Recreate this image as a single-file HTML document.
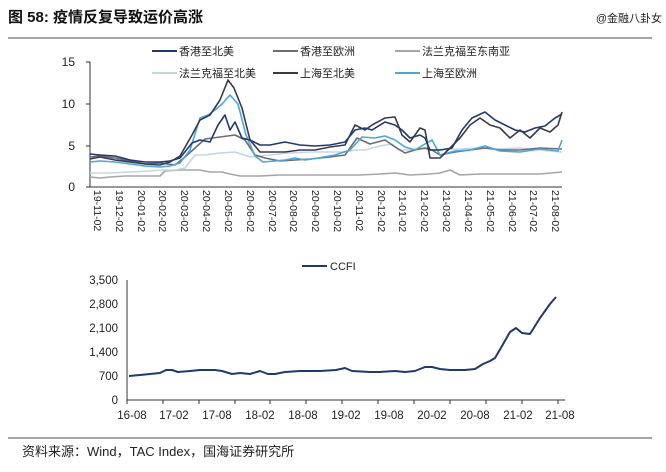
<!DOCTYPE html><html><head><meta charset="utf-8"><style>
body{margin:0;background:#fff;width:666px;height:467px;overflow:hidden;font-family:"Liberation Sans","Noto Sans CJK SC",sans-serif}
</style></head><body>
<svg width="666" height="467" viewBox="0 0 666 467" xmlns="http://www.w3.org/2000/svg" font-family="Liberation Sans, Noto Sans CJK SC, sans-serif">
<text x="8" y="22" font-size="15" font-weight="bold" fill="#111">图 58:  疫情反复导致运价高涨</text>
<text x="662" y="22" font-size="11" fill="#222" text-anchor="end">@金融八卦女</text>
<line x1="8" y1="38" x2="652" y2="38" stroke="#888" stroke-width="1.5"/>
<g font-size="11" fill="#222">
<line x1="152" y1="51" x2="177" y2="51" stroke="#1f3a6e" stroke-width="2"/><text x="179" y="55">香港至北美</text>
<line x1="273" y1="51" x2="298" y2="51" stroke="#6d6d6d" stroke-width="2"/><text x="300" y="55">香港至欧洲</text>
<line x1="395" y1="51" x2="420" y2="51" stroke="#a6a6a6" stroke-width="2"/><text x="422" y="55">法兰克福至东南亚</text>
<line x1="152" y1="73" x2="177" y2="73" stroke="#c5d5e8" stroke-width="2"/><text x="179" y="77">法兰克福至北美</text>
<line x1="273" y1="73" x2="298" y2="73" stroke="#3a3a4a" stroke-width="2"/><text x="300" y="77">上海至北美</text>
<line x1="395" y1="73" x2="420" y2="73" stroke="#4aa8dc" stroke-width="2"/><text x="422" y="77">上海至欧洲</text>
</g>
<g font-size="12" fill="#222" text-anchor="end">
<text x="75" y="66">15</text><text x="75" y="108">10</text><text x="75" y="150">5</text><text x="75" y="191">0</text>
</g>
<line x1="90" y1="62" x2="90" y2="187" stroke="#333"/>
<g stroke="#333"><line x1="86" y1="62" x2="90" y2="62"/><line x1="86" y1="104" x2="90" y2="104"/><line x1="86" y1="146" x2="90" y2="146"/><line x1="86" y1="187" x2="90" y2="187"/></g>
<line x1="90" y1="187" x2="562" y2="187" stroke="#333"/>
<g font-size="10.5" fill="#222">
<text transform="translate(94,190) rotate(90)">19-11-02</text>
<text transform="translate(116,190) rotate(90)">19-12-02</text>
<text transform="translate(138,190) rotate(90)">20-01-02</text>
<text transform="translate(159,190) rotate(90)">20-02-02</text>
<text transform="translate(181,190) rotate(90)">20-03-02</text>
<text transform="translate(203,190) rotate(90)">20-04-02</text>
<text transform="translate(225,190) rotate(90)">20-05-02</text>
<text transform="translate(247,190) rotate(90)">20-06-02</text>
<text transform="translate(269,190) rotate(90)">20-07-02</text>
<text transform="translate(290,190) rotate(90)">20-08-02</text>
<text transform="translate(312,190) rotate(90)">20-09-02</text>
<text transform="translate(334,190) rotate(90)">20-10-02</text>
<text transform="translate(356,190) rotate(90)">20-11-02</text>
<text transform="translate(378,190) rotate(90)">20-12-02</text>
<text transform="translate(399,190) rotate(90)">21-01-02</text>
<text transform="translate(421,190) rotate(90)">21-02-02</text>
<text transform="translate(443,190) rotate(90)">21-03-02</text>
<text transform="translate(465,190) rotate(90)">21-04-02</text>
<text transform="translate(487,190) rotate(90)">21-05-02</text>
<text transform="translate(509,190) rotate(90)">21-06-02</text>
<text transform="translate(530,190) rotate(90)">21-07-02</text>
<text transform="translate(552,190) rotate(90)">21-08-02</text>
</g>
<g fill="none" stroke-width="1.6" stroke-linejoin="round">
<polyline stroke="#a6a6a6" points="90,177 100,178 110,177 125,176 140,176 160,176 165,171 180,170 200,170 210,172 222,172 230,174 240,176 260,176 280,175 300,175 320,175 340,175 360,175 380,174 395,173 410,175 430,174 440,173 450,170 460,175 480,174 500,174 520,174 540,174 562,172"/>
<polyline stroke="#c5d5e8" points="90,173 110,173 130,172 150,171 160,170 175,170 185,168 195,155 205,155 220,153 235,152 250,157 270,155 290,153 310,152 330,152 345,152 355,150 365,150 380,146 392,144 400,150 410,150 420,148 430,150 440,150 460,149 480,148 500,149 520,148 540,150 562,152"/>
<polyline stroke="#6d6d6d" points="90,157 100,156 115,158 130,161 145,164 160,163 175,165 185,157 195,148 205,139 220,137 235,135 245,140 255,155 265,158 280,161 295,160 310,159 330,157 345,155 357,138 370,144 385,140 395,147 405,153 415,150 425,148 432,150 440,155 455,152 470,150 485,148 500,150 520,150 540,148 562,149"/>
<polyline stroke="#4aa8dc" points="90,162 100,161 115,162 130,164 145,166 160,167 170,166 180,163 190,150 200,118 208,115 215,110 222,104 230,95 238,104 246,135 255,156 263,162 275,161 285,160 295,158 305,160 318,158 335,155 350,150 362,137 375,138 385,136 395,140 405,147 415,150 425,144 432,140 440,155 455,151 470,150 485,146 500,151 520,152 540,149 558,151 562,140"/>
<polyline stroke="#3a3a4a" points="90,159 100,157 115,160 130,162 145,164 160,165 170,162 180,156 192,135 200,120 210,115 220,100 228,80 234,88 242,108 250,140 260,152 270,152 285,152 300,150 315,150 330,147 345,145 355,125 365,130 372,125 385,118 395,117 402,135 410,142 420,128 425,130 430,158 440,158 450,148 460,138 470,125 480,118 490,125 500,128 510,138 520,130 530,138 540,128 550,132 558,125 562,112"/>
<polyline stroke="#1f3a6e" points="90,154 100,155 115,156 130,160 145,162 160,162 170,161 180,158 192,143 200,140 210,142 218,125 225,115 230,130 235,122 242,138 250,140 260,145 270,145 285,142 300,145 315,146 330,145 345,142 355,130 365,128 372,130 385,122 395,125 402,130 410,138 420,135 425,138 430,150 440,150 452,148 462,130 472,118 485,112 495,120 505,125 515,130 525,132 535,128 545,126 555,118 562,114"/>
</g>
<!-- CCFI -->
<line x1="302" y1="266" x2="327" y2="266" stroke="#1f3a6e" stroke-width="2"/>
<text x="330" y="270" font-size="11" fill="#222">CCFI</text>
<g font-size="11.5" fill="#222" text-anchor="end">
<text x="118" y="284">3,500</text><text x="118" y="308">2,800</text><text x="118" y="332">2,100</text><text x="118" y="356">1,400</text><text x="118" y="380">700</text><text x="118" y="404">0</text>
</g>
<line x1="127" y1="280" x2="127" y2="400" stroke="#333"/>
<line x1="127" y1="400" x2="565" y2="400" stroke="#333"/>
<g stroke="#333">
<line x1="127" y1="400" x2="127" y2="404"/><line x1="163" y1="400" x2="163" y2="404"/><line x1="199" y1="400" x2="199" y2="404"/><line x1="235" y1="400" x2="235" y2="404"/><line x1="270" y1="400" x2="270" y2="404"/><line x1="306" y1="400" x2="306" y2="404"/><line x1="342" y1="400" x2="342" y2="404"/><line x1="378" y1="400" x2="378" y2="404"/><line x1="414" y1="400" x2="414" y2="404"/><line x1="450" y1="400" x2="450" y2="404"/><line x1="486" y1="400" x2="486" y2="404"/><line x1="522" y1="400" x2="522" y2="404"/><line x1="558" y1="400" x2="558" y2="404"/>
</g>
<g font-size="11.5" fill="#222" text-anchor="middle">
<text x="132" y="419">16-08</text><text x="174" y="419">17-02</text><text x="217" y="419">17-08</text><text x="260" y="419">18-02</text><text x="303" y="419">18-08</text><text x="346" y="419">19-02</text><text x="389" y="419">19-08</text><text x="432" y="419">20-02</text><text x="475" y="419">20-08</text><text x="518" y="419">21-02</text><text x="560" y="419">21-08</text>
</g>
<polyline fill="none" stroke="#1f3a6e" stroke-width="2" stroke-linejoin="round" points="129,376 140,375 150,374 160,373 166,370 172,370 178,372 190,371 200,370 215,370 222,371 232,374 240,373 250,374 260,371 268,374 275,374 285,372 300,371 320,371 336,370 345,368 352,371 370,372 380,372 395,371 405,372 415,371 425,367 432,367 440,369 450,370 465,370 475,369 483,364 490,361 495,358 502,346 510,332 516,328 522,333 530,334 540,318 550,304 556,297"/>
<line x1="8" y1="438" x2="652" y2="438" stroke="#888" stroke-width="1.5"/>
<text x="22" y="456" font-size="13" fill="#222">资料来源：Wind，TAC Index，国海证券研究所</text>
</svg>
</body></html>
